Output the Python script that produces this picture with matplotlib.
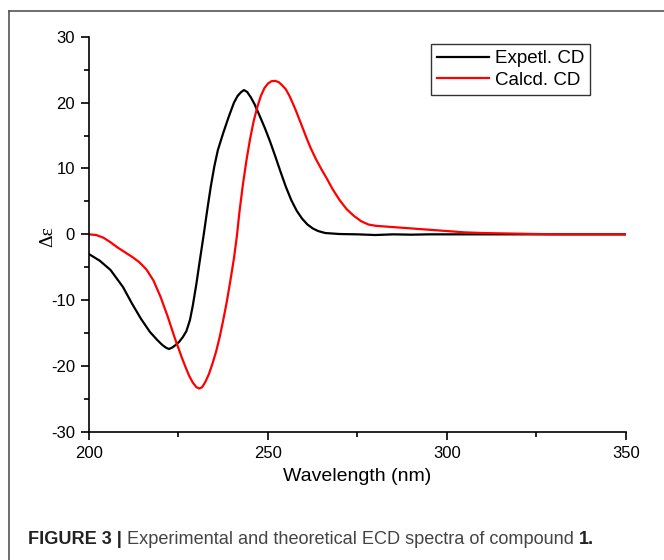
import matplotlib
matplotlib.use("Agg")
import matplotlib.pyplot as plt
from matplotlib.lines import Line2D
from matplotlib.ticker import MultipleLocator

# ---- data ----
exp_wl = [200, 203, 206, 209.5, 212, 214.5, 217, 219, 220.5, 221.5, 222.3, 223.2, 224.2, 225.2,
          226.2, 227.2, 228.2, 229, 230, 231, 232, 233, 234, 235, 236, 237.5, 239, 240.5, 241.5,
          242.5, 243.3, 244.2, 245.2, 246.2, 247.5, 249, 250.5, 252, 253.5, 255, 256.5, 258,
          259.5, 261, 262.5, 264, 266, 270, 275, 280, 285, 290, 295, 300, 310, 320, 330, 340, 350]
exp_de = [-3.0, -4.0, -5.4, -8.0, -10.5, -12.8, -14.8, -16.0, -16.8, -17.2, -17.4, -17.2, -16.8, -16.3,
          -15.6, -14.7, -13.0, -10.8, -7.5, -3.8, -0.2, 3.6, 7.2, 10.3, 12.8, 15.4, 17.8, 20.0, 21.0,
          21.6, 21.9, 21.6, 20.8, 19.8, 18.2, 16.3, 14.2, 11.9, 9.5, 7.2, 5.2, 3.6,
          2.4, 1.5, 0.9, 0.5, 0.2, 0.05, 0.0, -0.1, 0.0, -0.05, 0.0, 0.0, 0.0, 0.0, 0.0, 0.0, 0.0]

calc_wl = [200, 202, 204, 206, 208, 210, 212, 214, 216, 218, 220, 222, 224, 226, 227, 228, 229,
           230, 230.8, 231.6, 232.5, 233.5, 234.5, 235.5, 236.5, 237.5, 238.5, 239.5, 240.5,
           241.3, 242, 243, 244, 245, 246, 247, 248, 249, 250, 251, 252, 253, 254, 255, 256,
           257, 258, 259, 260, 261, 262, 263.5, 265, 266.5, 268, 270, 272, 274, 276, 278, 280,
           285, 290, 295, 300, 305, 310, 320, 330, 340, 350]
calc_de = [0.0, -0.1, -0.5, -1.2, -2.0, -2.7, -3.4, -4.2, -5.3, -7.0, -9.5, -12.5, -15.8, -18.8,
           -20.2, -21.5, -22.5, -23.2, -23.4, -23.2, -22.4, -21.2, -19.6, -17.8, -15.6, -13.0,
           -10.2, -7.0, -3.6, -0.3, 3.3, 7.6, 11.3, 14.5, 17.2, 19.3, 21.0, 22.2, 22.9, 23.25,
           23.3, 23.1, 22.6, 22.0, 21.0, 19.8, 18.5, 17.1, 15.7, 14.3, 13.0, 11.3, 9.8, 8.4, 6.9,
           5.2, 3.8, 2.8, 2.0, 1.5, 1.3, 1.1, 0.9, 0.7, 0.5, 0.3, 0.2, 0.1, 0.0, 0.0, 0.0]

series_labels = ["Expetl. CD", "Calcd. CD"]
x_ticks = [200, 250, 300, 350]
y_ticks = [-30, -20, -10, 0, 10, 20, 30]
caption_parts = [("FIGURE 3 | ", "bold"), ("Experimental and theoretical ECD spectra of compound ", "normal"), ("1.", "bold")]

W, H = 664, 560
fig = plt.figure(figsize=(W / 100, H / 100), dpi=100)
plt.rcParams['font.family'] = ['Liberation Sans', 'DejaVu Sans']
plt.rcParams['axes.unicode_minus'] = False

ax = fig.add_axes([89 / W, 1 - 432 / H, (626 - 89) / W, (432 - 36.7) / H])
ax.plot(exp_wl, exp_de, color='black', lw=1.6, label=series_labels[0])
ax.plot(calc_wl, calc_de, color='#ff0000', lw=1.6, label=series_labels[1])

ax.set_xlim(200, 350)
ax.set_ylim(-30, 30)
ax.set_xticks(x_ticks)
ax.set_yticks(y_ticks)
ax.xaxis.set_minor_locator(MultipleLocator(25))
ax.yaxis.set_minor_locator(MultipleLocator(5))
for s in ['top', 'right']:
    ax.spines[s].set_visible(False)
for s in ['left', 'bottom']:
    ax.spines[s].set_linewidth(1.2)
ax.tick_params(which='major', direction='out', length=6, width=1.2, labelsize=12, pad=4)
ax.tick_params(which='minor', direction='out', length=3.5, width=1.2)

ax.set_xlabel("Wavelength (nm)", fontsize=14, labelpad=5)
ax.set_ylabel("Δε", fontsize=14, family=['Liberation Serif', 'DejaVu Serif'])
ax.yaxis.set_label_coords((56 - 89) / (626 - 89), (432 - 237) / (432 - 36.7))

leg = ax.legend(loc='upper right', bbox_to_anchor=((590 - 89) / (626 - 89), (432 - 44) / (432 - 36.7)),
                frameon=True, fancybox=False, edgecolor='black', fontsize=13.5,
                handlelength=2.8, handletextpad=0.3, borderpad=0.32, labelspacing=0.25,
                borderaxespad=0)
leg.get_frame().set_linewidth(1.0)

# outer frame (left and top edges visible)
fig.add_artist(Line2D([8.5 / W, 8.5 / W], [0, 1 - 10.5 / H], transform=fig.transFigure,
                      color='#555555', lw=1.2))
fig.add_artist(Line2D([8.5 / W, 1], [1 - 10.5 / H, 1 - 10.5 / H], transform=fig.transFigure,
                      color='#555555', lw=1.2))

# caption
fig.canvas.draw()
r = fig.canvas.get_renderer()
x = 28 / W
y = 1 - 544 / H
for txt, wt in caption_parts:
    t = fig.text(x, y, txt, fontsize=13.1, weight=wt, color='#222222' if wt == 'bold' else '#444444',
                 family=['Liberation Sans Narrow', 'Liberation Sans'], va='baseline', ha='left')
    bb = t.get_window_extent(renderer=r)
    x += bb.width / W

fig.savefig("out.png", dpi=100)
